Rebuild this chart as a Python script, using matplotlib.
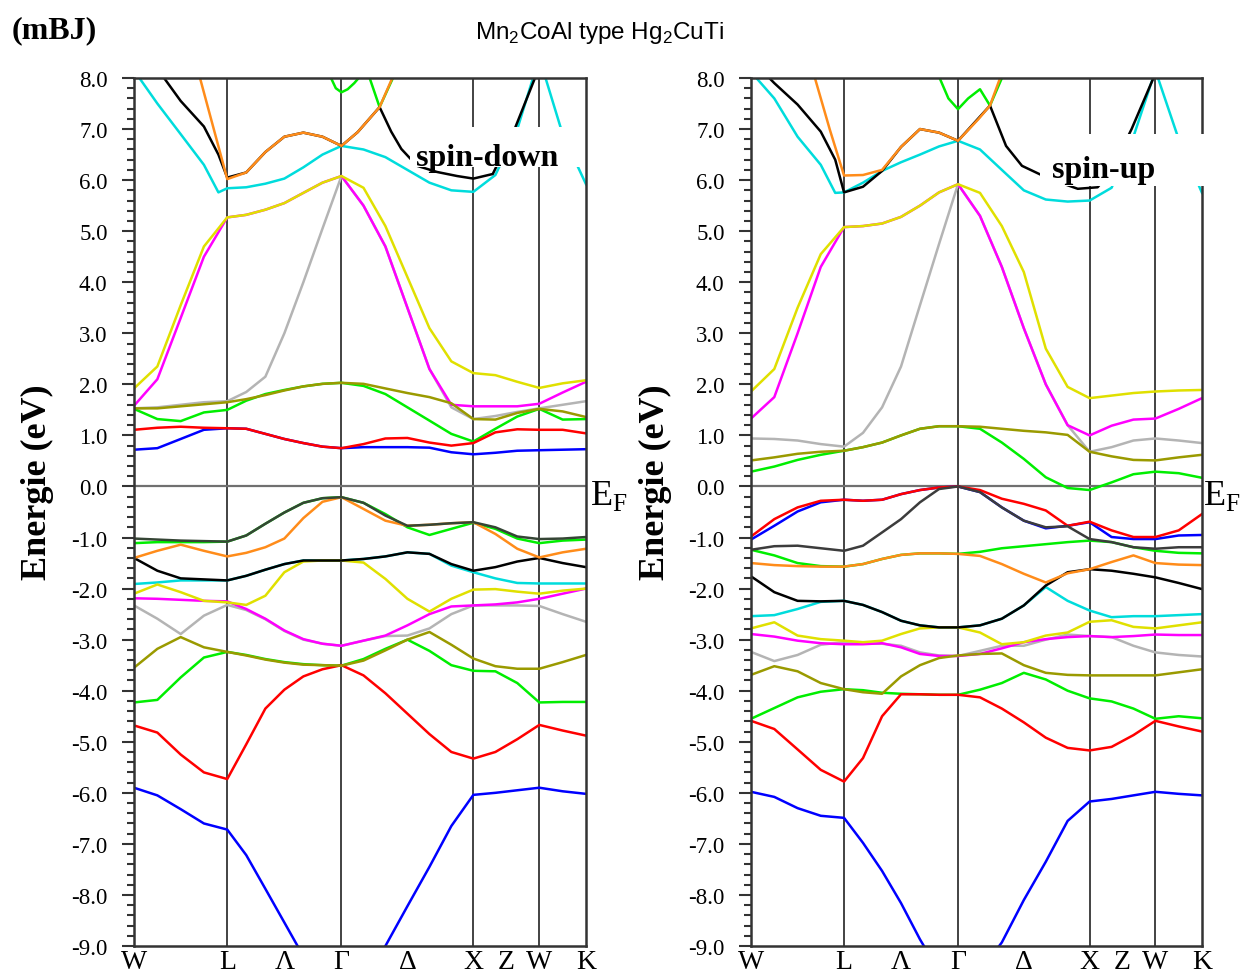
import matplotlib
matplotlib.use('Agg')
import matplotlib.pyplot as plt
from matplotlib.patches import Rectangle
from matplotlib.ticker import MultipleLocator, FormatStrFormatter

plt.rcParams['font.family'] = ['Liberation Serif', 'DejaVu Serif']
plt.rcParams['mathtext.fontset'] = 'custom'
plt.rcParams['mathtext.rm'] = 'Liberation Serif'
plt.rcParams['mathtext.sf'] = 'Liberation Sans'

# high symmetry points along the path W-L-G-X-W-K
kW, kL, kG, kX, kW2, kK = 0.0, 0.707, 1.573, 2.573, 3.073, 3.427
klab_pos = [kW, kL, (kL + kG) / 2, kG, (kG + kX) / 2, kX, (kX + kW2) / 2, kW2, kK]
klab = ['W', 'L', 'Λ', 'Γ', 'Δ', 'X', 'Z', 'W', 'K']

# k grid where energies were read
kg = [0.0, 0.177, 0.354, 0.530, 0.707, 0.851, 0.996, 1.140, 1.284, 1.429, 1.573,
      1.740, 1.906, 2.073, 2.240, 2.406, 2.573, 2.740, 2.906, 3.073, 3.250, 3.427]

# ---------------- spin-down (left) ----------------
dn_blue1 = [-5.90, -6.05, -6.32, -6.60, -6.72, -7.22, -7.88, -8.54, -9.20, -9.90, -10.3,
            -9.90, -9.00, -8.22, -7.45, -6.65, -6.04, -6.00, -5.95, -5.90, -5.97, -6.02]
dn_red1 = [-4.68, -4.82, -5.25, -5.60, -5.73, -5.05, -4.35, -3.98, -3.72, -3.58, -3.50,
           -3.70, -4.05, -4.45, -4.85, -5.20, -5.33, -5.20, -4.95, -4.67, -4.78, -4.88]
dn_green1 = [-4.23, -4.18, -3.74, -3.35, -3.24, -3.30, -3.38, -3.44, -3.48, -3.50, -3.51,
             -3.38, -3.18, -3.00, -3.22, -3.50, -3.61, -3.62, -3.85, -4.23, -4.22, -4.22]
dn_olive1 = [-3.55, -3.18, -2.95, -3.15, -3.24, -3.31, -3.39, -3.45, -3.49, -3.50, -3.51,
             -3.41, -3.21, -3.00, -2.85, -3.10, -3.37, -3.52, -3.57, -3.57, -3.44, -3.30]
dn_gray1 = [-2.33, -2.59, -2.89, -2.53, -2.32, -2.42, -2.60, -2.83, -3.00, -3.08, -3.12,
            -3.02, -2.93, -2.92, -2.78, -2.50, -2.33, -2.33, -2.33, -2.34, -2.50, -2.65]
dn_mag1 = [-2.19, -2.20, -2.22, -2.24, -2.25, -2.40, -2.59, -2.82, -2.99, -3.08, -3.12,
           -3.02, -2.92, -2.72, -2.50, -2.35, -2.33, -2.31, -2.27, -2.20, -2.10, -2.00]
dn_yel1 = [-2.10, -1.92, -2.07, -2.24, -2.27, -2.32, -2.14, -1.68, -1.47, -1.45, -1.45,
           -1.49, -1.81, -2.20, -2.45, -2.20, -2.02, -2.01, -2.06, -2.10, -2.04, -2.00]
dn_cyan1 = [-1.91, -1.88, -1.84, -1.84, -1.84, -1.75, -1.63, -1.52, -1.45, -1.45, -1.45,
            -1.42, -1.37, -1.29, -1.32, -1.55, -1.68, -1.80, -1.89, -1.90, -1.90, -1.90]
dn_black1 = [-1.40, -1.65, -1.80, -1.82, -1.84, -1.75, -1.63, -1.52, -1.45, -1.45, -1.45,
             -1.42, -1.37, -1.29, -1.32, -1.52, -1.65, -1.58, -1.47, -1.40, -1.50, -1.58]
dn_orange1 = [-1.40, -1.26, -1.14, -1.26, -1.37, -1.30, -1.19, -1.02, -0.62, -0.30, -0.21,
              -0.44, -0.67, -0.77, -0.75, -0.72, -0.70, -0.93, -1.22, -1.39, -1.29, -1.22]
dn_green2 = [-1.11, -1.09, -1.09, -1.09, -1.08, -0.96, -0.73, -0.51, -0.32, -0.23, -0.21,
             -0.32, -0.54, -0.80, -0.95, -0.83, -0.71, -0.83, -1.02, -1.11, -1.06, -1.04]
dn_dark1 = [-1.02, -1.04, -1.06, -1.07, -1.08, -0.96, -0.73, -0.51, -0.32, -0.23, -0.21,
            -0.32, -0.57, -0.77, -0.75, -0.72, -0.70, -0.80, -0.98, -1.03, -1.02, -0.99]
dn_blue2 = [0.72, 0.75, 0.93, 1.11, 1.14, 1.13, 1.03, 0.93, 0.85, 0.78, 0.75,
            0.77, 0.77, 0.77, 0.76, 0.67, 0.63, 0.66, 0.70, 0.71, 0.72, 0.73]
dn_red2 = [1.11, 1.15, 1.17, 1.15, 1.14, 1.13, 1.03, 0.93, 0.85, 0.78, 0.75,
           0.83, 0.94, 0.95, 0.86, 0.80, 0.85, 1.06, 1.12, 1.11, 1.11, 1.04]
dn_green3 = [1.52, 1.32, 1.28, 1.45, 1.50, 1.68, 1.81, 1.89, 1.96, 2.01, 2.03,
             1.97, 1.81, 1.55, 1.29, 1.03, 0.88, 1.13, 1.37, 1.52, 1.31, 1.32]
dn_olive2 = [1.53, 1.53, 1.57, 1.61, 1.65, 1.71, 1.79, 1.88, 1.96, 2.01, 2.03,
             2.01, 1.92, 1.83, 1.75, 1.63, 1.32, 1.31, 1.44, 1.52, 1.47, 1.36]
dn_gray2 = [1.53, 1.55, 1.60, 1.65, 1.67, 1.85, 2.15, 3.00, 4.00, 5.05, 6.08,
            5.50, 4.70, 3.50, 2.30, 1.55, 1.32, 1.38, 1.46, 1.53, 1.60, 1.67]
dn_mag2 = [1.58, 2.10, 3.30, 4.50, 5.27, 5.32, 5.42, 5.55, 5.75, 5.95, 6.08,
           5.50, 4.70, 3.50, 2.30, 1.60, 1.57, 1.57, 1.57, 1.62, 1.84, 2.05]
dn_yel2 = [1.92, 2.35, 3.55, 4.70, 5.27, 5.32, 5.42, 5.55, 5.75, 5.95, 6.08,
           5.85, 5.10, 4.10, 3.10, 2.45, 2.22, 2.18, 2.05, 1.93, 2.02, 2.08]
# upper bands, own k points
dn_cyan_hi_k = [0.0, 0.177, 0.354, 0.530, 0.640, 0.707, 0.851, 0.996, 1.140, 1.284, 1.429, 1.573,
                1.740, 1.906, 2.073, 2.240, 2.406, 2.573, 2.740, 2.906, 3.073, 3.250, 3.427]
dn_cyan_hi = [8.15, 7.50, 6.90, 6.30, 5.76, 5.84, 5.86, 5.93, 6.03, 6.25, 6.50, 6.67,
              6.60, 6.45, 6.20, 5.95, 5.80, 5.77, 6.10, 7.00, 8.40, 6.90, 5.92]
dn_black_hi_k = [0.20, 0.354, 0.530, 0.640, 0.707, 0.851, 0.996, 1.140, 1.284, 1.429, 1.573, 1.696,
                 1.862, 1.950, 2.027, 2.146, 2.297, 2.450, 2.573, 2.720, 2.886, 3.040, 3.100]
dn_black_hi = [8.10, 7.55, 7.05, 6.50, 6.05, 6.15, 6.55, 6.85, 6.93, 6.85, 6.67, 6.94,
               7.43, 6.95, 6.61, 6.28, 6.16, 6.08, 6.03, 6.12, 7.00, 8.00, 8.50]
dn_orange_hi_k = [0.490, 0.707, 0.851, 0.996, 1.140, 1.284, 1.429, 1.573, 1.696, 1.862, 1.967]
dn_orange_hi = [8.10, 6.02, 6.15, 6.55, 6.85, 6.93, 6.85, 6.67, 6.94, 7.43, 8.05]
dn_green_u_k = [1.49, 1.53, 1.573, 1.62, 1.67, 1.72]
dn_green_u = [8.02, 7.80, 7.72, 7.78, 7.90, 8.05]
dn_green_v_k = [1.78, 1.862, 1.972]
dn_green_v = [8.05, 7.43, 8.05]

# ---------------- spin-up (right) ----------------
up_blue1 = [-5.98, -6.08, -6.30, -6.45, -6.49, -6.98, -7.53, -8.16, -8.87, -9.50, -9.80,
            -9.50, -8.93, -8.10, -7.35, -6.55, -6.17, -6.12, -6.05, -5.98, -6.02, -6.05]
up_red1 = [-4.59, -4.75, -5.15, -5.55, -5.78, -5.32, -4.50, -4.07, -4.07, -4.08, -4.08,
           -4.13, -4.35, -4.62, -4.92, -5.12, -5.17, -5.10, -4.87, -4.59, -4.70, -4.80]
up_green1 = [-4.55, -4.34, -4.13, -4.02, -3.97, -3.99, -4.04, -4.06, -4.07, -4.08, -4.08,
             -3.98, -3.85, -3.65, -3.78, -4.00, -4.15, -4.21, -4.35, -4.55, -4.50, -4.54]
up_olive1 = [-3.69, -3.52, -3.62, -3.85, -3.97, -4.03, -4.06, -3.72, -3.50, -3.36, -3.31,
             -3.28, -3.27, -3.50, -3.65, -3.69, -3.70, -3.70, -3.70, -3.70, -3.64, -3.58]
up_gray1 = [-3.24, -3.42, -3.30, -3.10, -3.05, -3.08, -3.08, -3.12, -3.25, -3.31, -3.32,
            -3.22, -3.12, -3.12, -3.00, -2.90, -2.93, -2.95, -3.12, -3.25, -3.30, -3.33]
up_mag1 = [-2.89, -2.94, -3.02, -3.07, -3.09, -3.09, -3.07, -3.15, -3.28, -3.32, -3.32,
           -3.28, -3.17, -3.05, -2.99, -2.95, -2.93, -2.95, -2.93, -2.90, -2.91, -2.91]
up_yel1 = [-2.78, -2.66, -2.92, -2.99, -3.02, -3.05, -3.02, -2.89, -2.78, -2.76, -2.76,
           -2.86, -3.09, -3.05, -2.92, -2.86, -2.65, -2.62, -2.75, -2.78, -2.72, -2.66]
up_cyan1 = [-2.54, -2.52, -2.40, -2.26, -2.24, -2.32, -2.46, -2.63, -2.72, -2.76, -2.76,
            -2.72, -2.59, -2.33, -1.97, -2.24, -2.43, -2.56, -2.54, -2.54, -2.52, -2.50]
up_black1 = [-1.76, -2.07, -2.24, -2.25, -2.24, -2.32, -2.46, -2.63, -2.72, -2.76, -2.76,
             -2.72, -2.59, -2.33, -1.94, -1.68, -1.62, -1.65, -1.71, -1.78, -1.89, -2.01]
up_orange1 = [-1.50, -1.54, -1.56, -1.57, -1.57, -1.52, -1.42, -1.34, -1.31, -1.31, -1.32,
              -1.36, -1.52, -1.71, -1.88, -1.70, -1.62, -1.48, -1.35, -1.50, -1.53, -1.54]
up_green2 = [-1.24, -1.35, -1.50, -1.56, -1.57, -1.52, -1.42, -1.34, -1.31, -1.31, -1.32,
             -1.28, -1.21, -1.17, -1.13, -1.09, -1.06, -1.09, -1.19, -1.26, -1.30, -1.31]
up_dark1 = [-1.24, -1.17, -1.16, -1.21, -1.26, -1.16, -0.90, -0.64, -0.31, -0.05, 0.00,
            -0.11, -0.41, -0.67, -0.80, -0.78, -1.03, -1.09, -1.19, -1.22, -1.19, -1.19]
up_blue2 = [-1.04, -0.77, -0.49, -0.31, -0.26, -0.28, -0.26, -0.15, -0.07, -0.02, 0.00,
            -0.11, -0.41, -0.67, -0.82, -0.77, -0.70, -0.99, -1.03, -1.03, -0.96, -0.95]
up_red2 = [-0.98, -0.64, -0.41, -0.28, -0.26, -0.28, -0.26, -0.15, -0.07, -0.02, 0.00,
           -0.07, -0.24, -0.34, -0.47, -0.77, -0.69, -0.86, -0.99, -0.99, -0.86, -0.54]
up_green3 = [0.29, 0.39, 0.52, 0.62, 0.70, 0.77, 0.86, 1.00, 1.13, 1.18, 1.18,
             1.13, 0.86, 0.54, 0.18, -0.03, -0.07, 0.08, 0.24, 0.29, 0.26, 0.17]
up_olive2 = [0.51, 0.57, 0.64, 0.68, 0.70, 0.77, 0.86, 1.00, 1.13, 1.18, 1.18,
             1.17, 1.13, 1.09, 1.06, 1.01, 0.68, 0.59, 0.52, 0.51, 0.57, 0.62]
up_gray2 = [0.94, 0.93, 0.90, 0.83, 0.78, 1.05, 1.55, 2.35, 3.55, 4.75, 5.92,
            5.30, 4.30, 3.10, 2.00, 1.20, 0.68, 0.77, 0.90, 0.94, 0.90, 0.85]
up_mag2 = [1.33, 1.75, 3.00, 4.30, 5.08, 5.10, 5.15, 5.28, 5.50, 5.76, 5.92,
           5.30, 4.30, 3.10, 2.00, 1.20, 1.00, 1.19, 1.31, 1.33, 1.52, 1.73]
up_yel2 = [1.86, 2.30, 3.50, 4.55, 5.08, 5.10, 5.15, 5.28, 5.50, 5.76, 5.92,
           5.75, 5.10, 4.20, 2.70, 1.95, 1.73, 1.78, 1.83, 1.86, 1.88, 1.89]
up_cyan_hi_k = dn_cyan_hi_k
up_cyan_hi = [8.12, 7.60, 6.85, 6.30, 5.75, 5.76, 5.95, 6.18, 6.35, 6.50, 6.66, 6.77,
              6.60, 6.20, 5.80, 5.62, 5.58, 5.60, 5.85, 6.85, 8.15, 6.80, 5.75]
up_black_hi_k = [0.12, 0.177, 0.354, 0.530, 0.640, 0.707, 0.851, 0.996, 1.140, 1.284, 1.429, 1.573,
                 1.816, 1.938, 2.059, 2.272, 2.483, 2.634, 2.740, 2.892, 3.058, 3.120]
up_black_hi = [8.05, 7.90, 7.48, 6.95, 6.40, 5.76, 5.87, 6.18, 6.65, 7.00, 6.93, 6.77,
               7.46, 6.67, 6.28, 6.02, 5.83, 5.86, 6.20, 7.00, 8.00, 8.50]
up_orange_hi_k = [0.480, 0.600, 0.707, 0.851, 0.996, 1.140, 1.284, 1.429, 1.573, 1.730, 1.816, 1.900]
up_orange_hi = [8.05, 6.98, 6.09, 6.10, 6.20, 6.65, 7.00, 6.93, 6.77, 7.20, 7.46, 8.05]
up_green_hi_k = [1.43, 1.50, 1.573, 1.65, 1.74, 1.816, 1.915]
up_green_hi = [8.02, 7.60, 7.39, 7.60, 7.78, 7.46, 8.05]

C = {'blue': '#0000ff', 'red': '#ff0000', 'green': '#00ee00', 'olive': '#9a9a00',
     'gray': '#b4b4b4', 'mag': '#ff00ff', 'yel': '#e0e000', 'cyan': '#00dcdc',
     'black': '#000000', 'orange': '#ff8c1a', 'dark': '#354535', 'dark2': '#3c3c3c'}

left_bands = [
    (kg, dn_gray1, 'gray'), (kg, dn_gray2, 'gray'),
    (kg, dn_blue1, 'blue'), (kg, dn_blue2, 'blue'),
    (kg, dn_green1, 'green'), (kg, dn_green2, 'green'), (kg, dn_green3, 'green'),
    (dn_green_u_k, dn_green_u, 'green'), (dn_green_v_k, dn_green_v, 'green'),
    (kg, dn_cyan1, 'cyan'), (dn_cyan_hi_k, dn_cyan_hi, 'cyan'),
    (kg, dn_mag1, 'mag'), (kg, dn_mag2, 'mag'),
    (kg, dn_yel1, 'yel'), (kg, dn_yel2, 'yel'),
    (kg, dn_black1, 'black'), (dn_black_hi_k, dn_black_hi, 'black'),
    (kg, dn_orange1, 'orange'), (dn_orange_hi_k, dn_orange_hi, 'orange'),
    (kg, dn_red1, 'red'), (kg, dn_red2, 'red'),
    (kg, dn_olive1, 'olive'), (kg, dn_olive2, 'olive'),
    (kg, dn_dark1, 'dark'),
]
right_bands = [
    (kg, up_gray1, 'gray'), (kg, up_gray2, 'gray'),
    (kg, up_blue1, 'blue'), (kg, up_blue2, 'blue'),
    (kg, up_green1, 'green'), (kg, up_green2, 'green'), (kg, up_green3, 'green'),
    (up_green_hi_k, up_green_hi, 'green'),
    (kg, up_cyan1, 'cyan'), (up_cyan_hi_k, up_cyan_hi, 'cyan'),
    (kg, up_mag1, 'mag'), (kg, up_mag2, 'mag'),
    (kg, up_yel1, 'yel'), (kg, up_yel2, 'yel'),
    (kg, up_black1, 'black'), (up_black_hi_k, up_black_hi, 'black'),
    (kg, up_orange1, 'orange'), (up_orange_hi_k, up_orange_hi, 'orange'),
    (kg, up_red1, 'red'), (kg, up_red2, 'red'),
    (kg, up_olive1, 'olive'), (kg, up_olive2, 'olive'),
    (kg, up_dark1, 'dark2'),
]

W, H = 1241, 979
fig = plt.figure(figsize=(W / 100, H / 100), dpi=100)
axL = fig.add_axes([134 / W, 32 / H, 452 / W, 868 / H])
axR = fig.add_axes([751 / W, 32 / H, 451 / W, 868 / H])

def setup(ax, bands):
    for i, (k, e, c) in enumerate(bands):
        ax.plot(k, e, color=C[c], lw=1.8, zorder=2 + i * 0.01, solid_joinstyle='round')
    for kv in [kL, kG, kX, kW2]:
        ax.axvline(kv, color='#222222', lw=1.2, zorder=1)
    ax.axhline(0, color='#707070', lw=1.6, zorder=1)
    ax.set_xlim(kW, kK)
    ax.set_ylim(-9, 8)
    ax.set_xticks(klab_pos)
    ax.set_xticklabels(klab, fontsize=20)
    ax.tick_params(axis='x', length=0, pad=2)
    ax.yaxis.set_major_locator(MultipleLocator(1.0))
    ax.yaxis.set_minor_locator(MultipleLocator(0.2))
    ax.yaxis.set_major_formatter(FormatStrFormatter('%.1f'))
    ax.tick_params(axis='y', which='major', direction='out', length=9, width=1.5,
                   color='#333333', labelsize=16.5, pad=10)
    ax.tick_params(axis='y', which='minor', direction='out', length=5, width=1.5,
                   color='#333333')
    for s in ax.spines.values():
        s.set_color('#333333')
        s.set_linewidth(1.8)

setup(axL, left_bands)
setup(axR, right_bands)

# white boxes behind the spin labels
axL.add_patch(Rectangle((2.09, 6.26), 1.29, 0.78, facecolor='white', edgecolor='none',
                        zorder=5, clip_on=False))
axL.text(2.676, 6.45, 'spin-down', fontsize=23, fontweight='bold', ha='center', va='center', zorder=6)
axR.add_patch(Rectangle((2.196, 5.88), 1.30, 1.02, facecolor='white', edgecolor='none',
                        zorder=5, clip_on=False))
axR.text(2.679, 6.2, 'spin-up', fontsize=23, fontweight='bold', ha='center', va='center', zorder=6)

for ax, xo in [(axL, 1.008), (axR, 1.003)]:
    ax.text(xo, -0.34, r'$\mathrm{E}_\mathrm{F}$', transform=ax.get_yaxis_transform(),
            fontsize=26, ha='left', va='baseline')

fig.text(37 / W, 1 - 482 / H, 'Energie (eV)', rotation=90, fontsize=26, fontweight='bold',
         ha='center', va='center')
fig.text(655 / W, 1 - 482 / H, 'Energie (eV)', rotation=90, fontsize=26, fontweight='bold',
         ha='center', va='center')
fig.text(12 / W, 1 - 31 / H, '(mBJ)', fontsize=23, fontweight='bold', ha='left', va='center')
fig.text(599 / W, 1 - 33 / H, r'Mn$_\mathsf{2}$CoAl type Hg$_\mathsf{2}$CuTi',
         family='Liberation Sans', fontsize=17.5, ha='center', va='center')

fig.savefig('out.png', dpi=100)
